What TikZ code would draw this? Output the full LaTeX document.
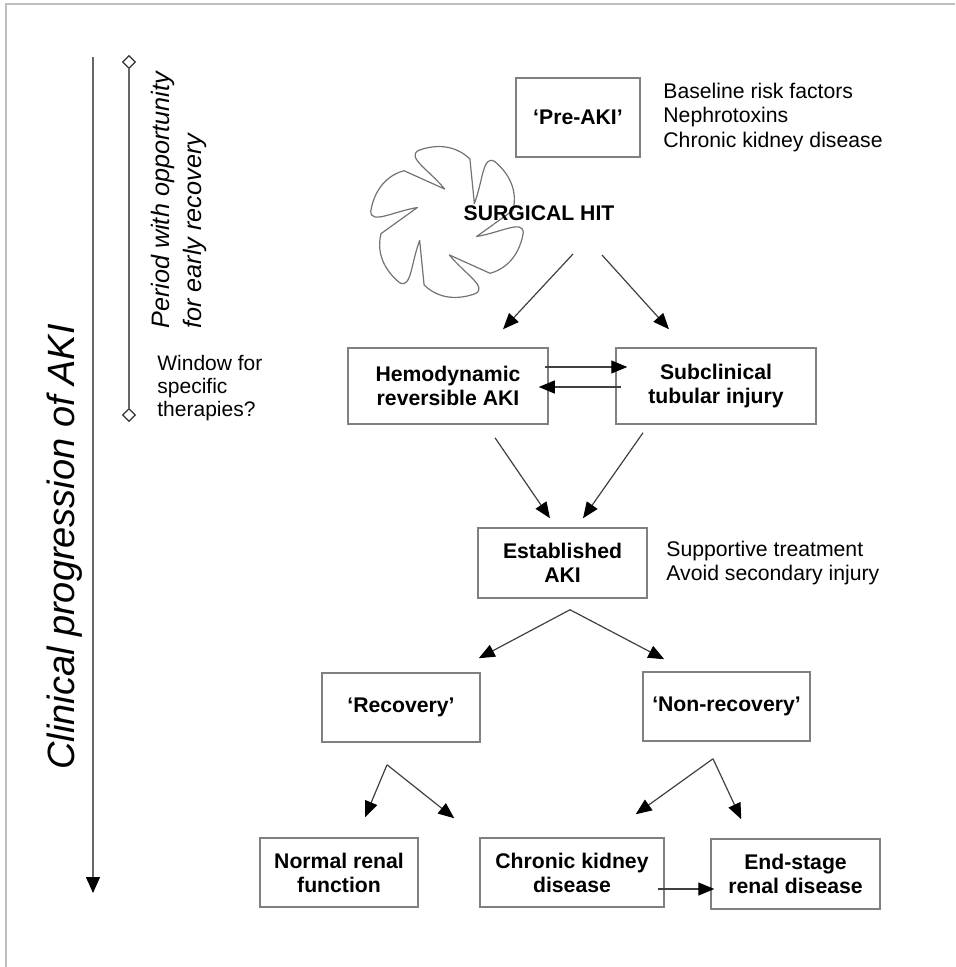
\documentclass[tikz,border=0pt]{standalone}
\usepackage{fontspec}
\setmainfont{Liberation Sans}
\usetikzlibrary{arrows.meta,positioning,calc,shapes.geometric}

\begin{document}
\begin{tikzpicture}[
    x=0.5pt, y=-0.5pt,
    every node/.style={font=\fontsize{10.6}{12.25}\selectfont},
    box/.style={draw=black!50, line width=0.75pt, align=center, inner sep=0pt, font=\fontsize{10.6}{12}\selectfont\bfseries},
    note/.style={align=left, inner sep=0pt},
    flow/.style={draw=black!75, line width=0.6pt, -{Triangle[length=8pt, width=6.5pt, black]}},
    axis/.style={draw=black!60, line width=0.7pt, -{Triangle[length=8pt, width=7pt, black]}},
    rail/.style={draw=black!60, line width=0.7pt},
    dmd/.style={diamond, draw=black!80, fill=white, line width=0.6pt, inner sep=0pt, minimum size=6.5pt},
    hitline/.style={draw=black!55, line width=0.6pt, line join=round},
    frame/.style={draw=black!25, line width=0.8pt}
]
\useasboundingbox (0,0) rectangle (955,967);
\draw[frame] (6,967) -- (6,4) -- (955,4);

% time axis and window
\coordinate (axtop) at (93,57);
\coordinate (axend) at (93,893);
\draw[axis] (axtop) -- (axend);
\node[rotate=90, font=\fontsize{19}{22}\selectfont\itshape] (prog) at (65,547) {Clinical progression of AKI};
\node[dmd] (dtop) at (129,62) {};
\node[dmd] (dbot) at (129,415) {};
\draw[rail] (dtop) -- (dbot);
\node[rotate=90, anchor=north west, align=left, inner sep=0pt, font=\fontsize{12.6}{16}\selectfont\itshape] (period) at (151,329) {Period with opportunity\\for early recovery};
\node[note, anchor=west, font=\fontsize{10.5}{11.5}\selectfont] (window) at (157,388) {Window for\\specific\\therapies?};

% the hit
\node[box, minimum width=62pt, minimum height=39.5pt] (preaki) at (578,117.5) {‘Pre-AKI’};
\node[note, anchor=west] (risk) at (663,117.5) {Baseline risk factors\\Nephrotoxins\\Chronic kidney disease};
\begin{scope}[shift={(447,222)}, y=0.5pt]
  \draw[hitline] (34:33) foreach \b in {34,-26,...,-266} {
    .. controls (\b+15:55) and (\b+28:76) .. (\b+18:77)
    .. controls (\b+8:78) and (\b-8:80) .. (\b-24:67) -- (\b-60:33)} -- cycle;
\end{scope}
\node[font=\fontsize{10.6}{12}\selectfont\bfseries] (hit) at (539,213) {SURGICAL HIT};

% early injury
\node[box, minimum width=100pt, minimum height=38pt] (hemo) at (448,386) {Hemodynamic\\reversible AKI};
\node[box, minimum width=100pt, minimum height=38pt] (subcl) at (716,386) {Subclinical\\tubular injury};
\draw[flow] ($(hit)+(34,41)$) -- ($(hemo.north)+(55,-18)$);
\draw[flow] ($(hit)+(63,42)$) -- ($(subcl.north)+(-47,-18)$);
\draw[flow] ($(hemo.east)+(-4,-19)$) -- ($(subcl.west)+(12,-19)$);
\draw[flow] ($(subcl.west)+(6,1)$) -- ($(hemo.east)+(-10,1)$);

% established
\node[box, minimum width=84.5pt, minimum height=35pt] (estab) at (562.5,563) {Established\\AKI};
\node[note, anchor=west] (supp) at (666,563) {Supportive treatment\\Avoid secondary injury};
\draw[flow] ($(hemo.south)+(47,13)$) -- ($(estab.north)+(-12.5,-9)$);
\draw[flow] ($(subcl.south)+(-73,8)$) -- ($(estab.north)+(20.5,-9)$);

% outcome
\node[box, minimum width=79pt, minimum height=34.5pt] (recov) at (401,707.5) {‘Recovery’};
\node[box, minimum width=83.5pt, minimum height=34.5pt] (nonrec) at (726.5,706.5) {‘Non-recovery’};
\coordinate (split) at ($(estab.south)+(7.5,11)$);
\draw[flow] (split) -- ($(recov.north east)+(-2,-14)$);
\draw[flow] (split) -- ($(nonrec.north west)+(22,-12)$);

\node[box, minimum width=79pt, minimum height=34.5pt] (normal) at (339,872.5) {Normal renal\\function};
\node[box, minimum width=92pt, minimum height=34.5pt] (ckd) at (572,872.5) {Chronic kidney\\disease};
\node[box, minimum width=84.5pt, minimum height=35pt] (esrd) at (795.5,874) {End-stage\\renal disease};
\coordinate (recsplit) at ($(recov.south)+(-14,22)$);
\coordinate (nonsplit) at ($(nonrec.south)+(-13.5,17)$);
\draw[flow] (recsplit) -- ($(normal.north)+(26,-20)$);
\draw[flow] (recsplit) -- ($(ckd.north west)+(-25,-19)$);
\draw[flow] (nonsplit) -- ($(ckd.north east)+(-29,-23)$);
\draw[flow] (nonsplit) -- ($(esrd.north west)+(31,-19)$);
\draw[flow] ($(ckd.east)+(-7,16.5)$) -- ($(esrd.west)+(4,15)$);
\end{tikzpicture}
\end{document}
